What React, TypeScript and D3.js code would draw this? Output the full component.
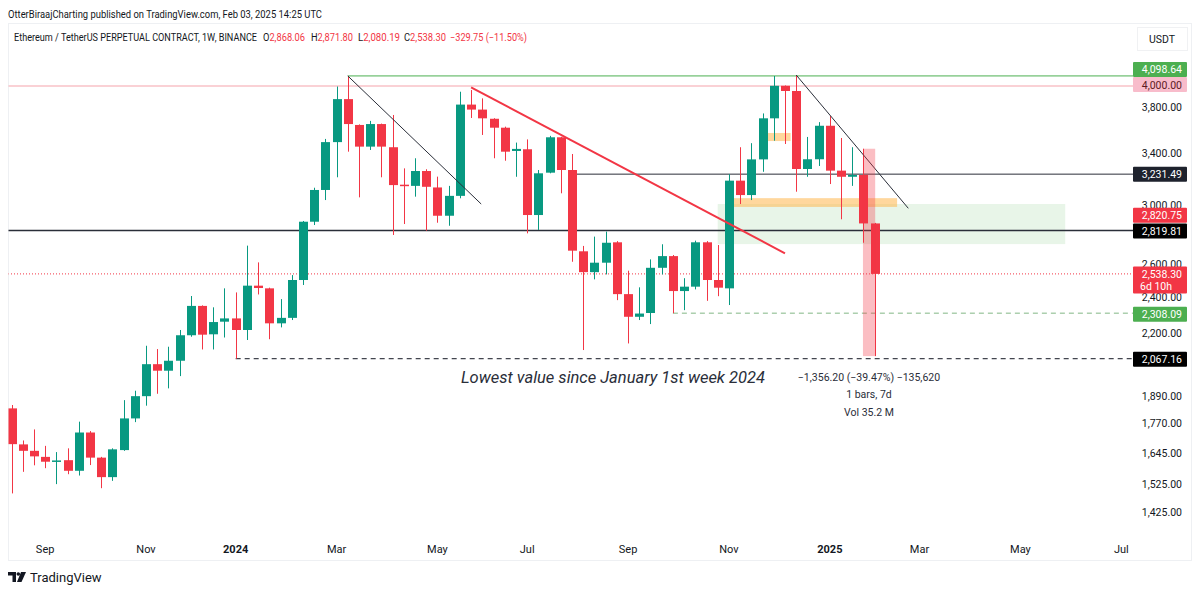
import React from "react";
import * as d3 from "d3";

// weekly candles, first bar = week of 2023-08-14 (ETHUSDT.P, Binance)
const opens = [
  1833, 1680, 1654, 1630, 1611, 1617, 1576, 1729, 1627, 1552,
  1657, 1789, 1888, 2040, 2008, 2057, 2188, 2349, 2193, 2261,
  2279, 2216, 2467, 2451, 2252, 2282, 2501, 2880, 3110, 3492,
  3875, 3640, 3454, 3648, 3449, 3150, 3141, 3256, 3129, 2922,
  3066, 3824, 3778, 3695, 3616, 3418, 3432, 2927, 3243, 3533,
  3264, 2681, 2549, 2608, 2740, 2417, 2288, 2309, 2576, 2650,
  2435, 2461, 2740, 2501, 2451, 3181, 3072, 3349, 3699, 4002,
  3952, 3272, 3350, 3633, 3259, 3211, 3225, 2868.06,
];
const highs = [
  1848, 1696, 1742, 1674, 1649, 1664, 1775, 1735, 1630, 1664,
  1870, 1913, 2133, 2116, 2128, 2216, 2406, 2352, 2341, 2451,
  2427, 2718, 2610, 2455, 2388, 2531, 2885, 3127, 3519, 3995,
  4098.64, 3645, 3676, 3652, 3729, 3277, 3358, 3270, 3212, 3141,
  3945, 3961, 3882, 3700, 3625, 3488, 3515, 3264, 3545, 3537,
  3393, 2716, 2778, 2812, 2748, 2558, 2457, 2629, 2727, 2657,
  2512, 2751, 2748, 2722, 3231, 3449, 3483, 3743, 4098, 4005,
  4107.8, 3536, 3665, 3719, 3527, 3449, 3436.39, 2871.8,
];
const lows = [
  1492, 1572, 1597, 1586, 1526, 1563, 1558, 1598, 1511, 1538,
  1654, 1773, 1845, 1899, 1924, 1982, 2180, 2114, 2114, 2176,
  2067.16, 2163, 2415, 2167, 2230, 2270, 2471, 2857, 3035, 3207,
  3412, 3055, 3426, 3207, 2789, 2864, 3060, 2818, 2873, 2852,
  3048, 3702, 3553, 3358, 3338, 3211, 2800, 2823, 3238, 3085,
  2614, 2111, 2505, 2535, 2382, 2145, 2270, 2248, 2535, 2308.09,
  2325, 2445, 2378, 2405, 2354, 3006, 3035, 3250, 3504, 3476,
  3097, 3211, 3296, 3155, 2897, 3141, 2737, 2080.19,
];
const closes = [
  1681, 1654, 1632, 1611, 1616, 1576, 1729, 1627, 1552, 1660,
  1789, 1888, 2040, 2008, 2057, 2188, 2349, 2191, 2259, 2279,
  2216, 2467, 2453, 2252, 2282, 2501, 2880, 3110, 3492, 3875,
  3648, 3454, 3648, 3454, 3147, 3139, 3256, 3134, 2922, 3066,
  3824, 3778, 3699, 3616, 3412, 3435, 2927, 3238, 3533, 3264,
  2685, 2549, 2608, 2737, 2417, 2288, 2306, 2576, 2650, 2435,
  2461, 2740, 2501, 2455, 3181, 3072, 3349, 3699, 4002, 3952,
  3272, 3350, 3633, 3259, 3211, 3225, 2868.05, 2538.3,
];

const priceTicks = [4200, 3800, 3400, 3000, 2600, 2400, 2200, 1890, 1770, 1645, 1525, 1425];
const timeTickLabels = ["Sep", "Nov", "2024", "Mar", "May", "Jul", "Sep", "Nov", "2025", "Mar", "May", "Jul"];
const timeTickBars = [3, 12, 20, 29, 38, 46, 55, 64, 73, 81, 90, 99];

// levels drawn on the chart
const peakLevel = 4098.64;
const roundLevel = 4000;
const resistLevel = 3231.49;
const supportLevel = 2819.81;
const rangeLabel = 2820.75;
const swingLow = 2308.09;
const yearLow = 2067.16;

// drawings as [bar, price] pairs
const redTrend: [number, number][] = [[41, 3987], [69, 2668]];
const peakTrendA: [number, number][] = [[30, 4098.64], [41.9, 3006]];
const peakTrendB: [number, number][] = [[70, 4107.8], [80, 2975]];
const greenZone = [63, 94, 3006, 2728];
const orangeBand = [64.4, 79, 3049, 2985];
const orangeSmall = [67.3, 69.5, 3570, 3501];

const GREEN = "#089981";
const RED = "#f23645";
const FONT = "Roboto, 'Noto Sans', sans-serif";

const fmt = d3.format(",.2f");
const minus = (s: string) => s.replace("-", "\u2212");

export default function App() {
  const W = 1200;
  const H = 592;
  const plotL = 8;
  const plotR = 1133;
  const last = closes.length - 1;

  const x = d3.scaleLinear().domain([0, 1]).range([11.5, 22.71]);
  const y = d3.scaleLog().domain([1425, 4000]).range([512.4, 86]);

  const bars = closes.map((c, i) => ({ i, o: opens[i], h: highs[i], l: lows[i], c }));

  const chg = closes[last] - closes[last - 1];
  const chgPct = (chg / closes[last - 1]) * 100;
  const measHigh = highs[last - 1];
  const measLow = lows[last];
  const measDiff = measLow - measHigh;
  const measPct = (measDiff / measHigh) * 100;

  const line = d3
    .line<[number, number]>()
    .x((d) => x(d[0]))
    .y((d) => y(d[1]));

  const zoneRect = (z: number[]) => ({
    x: x(z[0]),
    y: y(z[2]),
    width: x(z[1]) - x(z[0]),
    height: y(z[3]) - y(z[2]),
  });

  const axisLabels = [
    { text: fmt(peakLevel), bg: "#4caf50", fg: "#fff", cy: y(peakLevel) - 6.5 },
    { text: fmt(roundLevel), bg: "#f8bccb", fg: "#5d1a22", cy: y(roundLevel) - 1.5 },
    { text: fmt(resistLevel), bg: "#1e222d", fg: "#fff", cy: y(resistLevel) },
    { text: fmt(rangeLabel), bg: RED, fg: "#fff", cy: y(rangeLabel) - 15 },
    { text: fmt(supportLevel), bg: "#000", fg: "#fff", cy: y(supportLevel) + 0.5 },
    { text: fmt(swingLow), bg: "#4caf50", fg: "#fff", cy: y(swingLow) + 1 },
    { text: fmt(yearLow), bg: "#000", fg: "#fff", cy: y(yearLow) + 0.5 },
  ];

  const ohlc = [
    { k: "O", v: opens[last], at: 263 },
    { k: "H", v: highs[last], at: 311 },
    { k: "L", v: lows[last], at: 358 },
    { k: "C", v: closes[last], at: 404 },
  ];

  return (
    <svg
      width={W}
      height={H}
      style={{ position: "absolute", left: 0, top: 0, background: "#fff", fontFamily: FONT }}
    >
      <defs>
        <clipPath id="plot">
          <rect x={plotL + 0.5} y={24} width={plotR - plotL} height={512} />
        </clipPath>
      </defs>

      <text x={8} y={18} fontSize={10.5} fill="#131722" textLength={314} lengthAdjust="spacingAndGlyphs">
        OtterBiraajCharting published on TradingView.com, Feb 03, 2025 14:25 UTC
      </text>

      <rect x={8.5} y={23.5} width={1183} height={537} fill="#fff" stroke="#eef0f3" />

      {/* legend line */}
      <text x={14} y={41} fontSize={10.5} fill="#131722" textLength={243} lengthAdjust="spacingAndGlyphs">
        Ethereum / TetherUS PERPETUAL CONTRACT, 1W, BINANCE
      </text>
      {ohlc.map((d) => (
        <text
          key={d.k}
          x={d.at}
          y={41}
          fontSize={10}
          fill="#131722"
          textLength={42}
          lengthAdjust="spacingAndGlyphs"
        >
          {d.k}
          <tspan fill={RED}>{fmt(d.v)}</tspan>
        </text>
      ))}
      <text x={450} y={41} fontSize={10} fill={RED} textLength={77} lengthAdjust="spacingAndGlyphs">
        {minus(fmt(chg))} ({minus(chgPct.toFixed(2))}%)
      </text>

      <g clipPath="url(#plot)">
        {/* zones */}
        <rect {...zoneRect(greenZone)} fill="#4caf50" fillOpacity={0.13} />
        <rect {...zoneRect(orangeBand)} fill="#ffb74d" fillOpacity={0.55} />
        <rect {...zoneRect(orangeSmall)} fill="#ffb74d" fillOpacity={0.55} />

        {/* horizontal levels */}
        <line x1={plotL} x2={plotR} y1={y(roundLevel)} y2={y(roundLevel)} stroke="#f5a3ab" strokeWidth={1} />
        <line x1={x(30)} x2={plotR} y1={y(peakLevel)} y2={y(peakLevel)} stroke="#4caf50" strokeWidth={1} />
        <line x1={x(50)} x2={plotR} y1={y(resistLevel)} y2={y(resistLevel)} stroke="#2a2e39" strokeWidth={1} />
        <line x1={plotL} x2={plotR} y1={y(supportLevel)} y2={y(supportLevel)} stroke="#2a2e39" strokeWidth={1.4} />
        <line
          x1={plotL}
          x2={plotR}
          y1={y(closes[last])}
          y2={y(closes[last])}
          stroke={RED}
          strokeWidth={1}
          strokeDasharray="1 2"
        />
        <line
          x1={x(59)}
          x2={plotR}
          y1={y(swingLow)}
          y2={y(swingLow)}
          stroke="#81b784"
          strokeWidth={1}
          strokeDasharray="5 4"
        />
        <line
          x1={x(20)}
          x2={plotR}
          y1={y(yearLow)}
          y2={y(yearLow)}
          stroke="#131722"
          strokeWidth={1}
          strokeDasharray="5 4"
        />

        {/* candles */}
        {bars.map((b) => {
          const up = b.c >= b.o;
          const col = up ? GREEN : RED;
          const cx = Math.round(x(b.i)) + 0.5;
          const top = y(Math.max(b.o, b.c));
          const bot = y(Math.min(b.o, b.c));
          return (
            <g key={b.i}>
              <line x1={cx} x2={cx} y1={y(b.h)} y2={y(b.l)} stroke={col} strokeWidth={1} />
              <rect x={cx - 4.5} y={top} width={9} height={Math.max(1.5, bot - top)} fill={col} />
            </g>
          );
        })}

        {/* trend lines */}
        <path d={line(peakTrendA) || ""} stroke="#2a2e39" strokeWidth={1} fill="none" />
        <path d={line(peakTrendB) || ""} stroke="#2a2e39" strokeWidth={1} fill="none" />
        <path d={line(redTrend) || ""} stroke={RED} strokeWidth={2} fill="none" />

        {/* price range measure */}
        <rect
          x={x(last - 1) - 0.5}
          y={y(measHigh)}
          width={x(last) - x(last - 1) + 1}
          height={y(measLow) - y(measHigh)}
          fill={RED}
          fillOpacity={0.32}
        />
      </g>

      <text x={461} y={383} fontSize={16} fontStyle="italic" fill="#2a2e39" textLength={304} lengthAdjust="spacingAndGlyphs">
        Lowest value since January 1st week 2024
      </text>

      <g fontSize={10.5} fill="#2a2e39" textAnchor="middle">
        <text x={869} y={381}>
          {minus(fmt(measDiff))} ({minus(measPct.toFixed(2))}%) {minus(d3.format(",")(Math.round(measDiff * 100)))}
        </text>
        <text x={869} y={398}>1 bars, 7d</text>
        <text x={869} y={416}>Vol 35.2 M</text>
      </g>

      {/* price axis */}
      <rect x={1137.5} y={27.5} width={50} height={23} fill="#fff" stroke="#f0f1f3" />
      <text x={1162} y={43} fontSize={10.5} fill="#131722" textAnchor="middle">
        USDT
      </text>
      <g fontSize={10.5} fill="#131722" textAnchor="end">
        {priceTicks.map((p) => (
          <text key={p} x={1182} y={y(p) + 4}>
            {fmt(p)}
          </text>
        ))}
      </g>
      {axisLabels.map((l) => (
        <g key={l.text}>
          <rect x={1133} y={l.cy - 7.5} width={54} height={15} fill={l.bg} rx={1} />
          <text x={1182} y={l.cy + 4} fontSize={10.5} fill={l.fg} textAnchor="end">
            {l.text}
          </text>
        </g>
      ))}
      <g>
        <rect x={1133} y={y(closes[last]) - 7.5} width={54} height={27} fill={RED} rx={1} />
        <text x={1182} y={y(closes[last]) + 4} fontSize={10.5} fill="#fff" textAnchor="end">
          {fmt(closes[last])}
        </text>
        <text x={1140} y={y(closes[last]) + 16.5} fontSize={10.5} fill="#fff">
          6d 10h
        </text>
      </g>

      {/* time axis */}
      <g fontSize={11} fill="#131722" textAnchor="middle">
        {timeTickLabels.map((t, k) => (
          <text
            key={k}
            x={x(timeTickBars[k])}
            y={553}
            fontWeight={/^\d{4}$/.test(t) ? "bold" : "normal"}
          >
            {t}
          </text>
        ))}
      </g>

      {/* TradingView logo */}
      <g fill="#131722">
        <path d="M8 572 h8 v10 h-3.5 v-6.5 h-4.5 z" />
        <circle cx={18.3} cy={574} r={1.8} />
        <path d="M21 572 h5 l-4.5 10 h-4.5 z" />
        <text x={30} y={582} fontSize={13}>
          TradingView
        </text>
      </g>
    </svg>
  );
}
